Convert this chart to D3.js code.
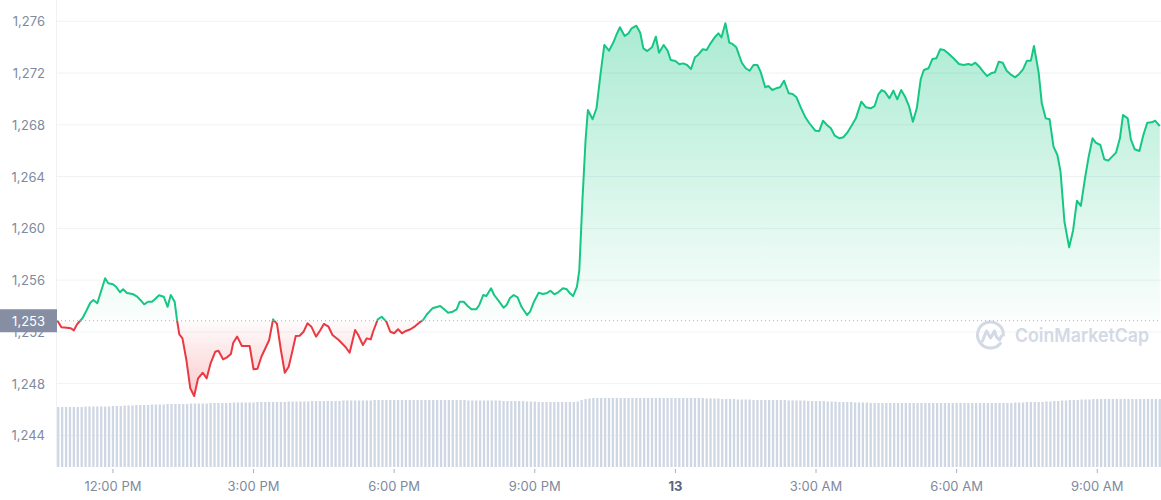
<!DOCTYPE html>
<html><head><meta charset="utf-8">
<script src="https://cdn.jsdelivr.net/npm/d3@7"></script>
<style>
html,body{margin:0;padding:0;background:#fff;}
svg{display:block;font-family:Inter,"Noto Sans",sans-serif;}
</style></head><body>
<svg id="chart" width="1161" height="500"></svg>
<script>
// minutes after 00:00 on the 12th
const minutes = [
649,654,661,666,670,674,678,681,686,691,695,700,706,710,714,720,724,729,733,738,745,751,756,760,765,770,774,779,785,790,794,799,802,805,809,814,819,824,829,835,840,845,851,855,861,866,871,874,879,885,895,900,905,910,916,920,925,930,935,940,945,950,954,959,964,969,974,980,985,990,996,
1001,1009,1018,1023,1030,1034,1040,1045,1050,1053,1059,1064,1070,1075,1080,1085,1090,1095,1101,1107,1112,1117,1122,1129,1139,1144,1149,1155,1160,1164,1169,1174,1179,1185,1189,1194,1198,1204,1208,1213,1220,1224,1228,1233,1238,1243,1250,1254,1259,1265,1270,1275,1280,1285,1290,1296,1301,1305,1309,1314,1317,
1321,1325,1328,1334,1339,1344,1349,1355,1361,1365,1369,1375,1380,1384,1390,1395,1399,1404,1410,1415,1419,1425,1430,1434,1440,1445,1450,1455,1460,1465,1469,1475,1480,1485,1491,1495,1499,1504,1509,1513,1518,1525,1530,1535,1540,1545,1549,1555,1559,1564,1569,1574,1579,1585,1590,1595,1600,1606,1611,1619,1624,1629,1634,1639,1644,1650,1655,1660,1666,1671,1678,
1684,1690,1695,1700,1704,1708,1714,1719,1724,1729,1734,1739,1744,1749,1754,1758,1764,1769,1774,1779,1784,1789,1796,1803,1809,1815,1819,1824,1829,1834,1839,1844,1849,1854,1859,1864,1869,1875,1880,1885,1890,1895,1899,1905,1909,1914,1919,1924,1929,1933,1938,1944,1949,1954,1959,1964,1969,1974,1978,1984,1989,1994,1999,2004,2009,2013,2019,2023,2028,2034,2039,2044,2050,2054,2060
];
const prices = [
1252.86,1252.35,1252.32,1252.28,1252.12,1252.58,1252.86,1253.05,1253.63,1254.25,1254.46,1254.21,1255.37,1256.14,1255.75,1255.68,1255.49,1255.06,1255.29,1255.00,1254.93,1254.72,1254.41,1254.13,1254.33,1254.33,1254.54,1254.83,1254.72,1253.94,1254.85,1254.33,1252.92,1251.81,1251.50,1249.83,1247.64,1247.04,1248.41,1248.84,1248.41,1249.57,1250.47,1250.54,1249.88,1250.03,1250.29,1251.16,1251.63,1250.91,1250.91,1249.11,1249.15,1250.08,1250.85,1251.37,1252.97,1252.61,1250.60,1248.84,1249.31,1250.60,1251.68,1251.70,1252.01,1252.66,1252.40,1251.63,1252.09,1252.61,1252.40,
1251.76,1251.37,1250.81,1250.39,1252.14,1251.76,1250.98,1251.50,1251.42,1252.01,1252.97,1253.17,1252.79,1252.01,1251.89,1252.20,1251.89,1252.07,1252.20,1252.45,1252.71,1252.92,1253.36,1253.82,1254.00,1253.74,1253.48,1253.56,1253.74,1254.33,1254.33,1254.00,1253.74,1253.74,1254.08,1254.85,1254.77,1255.37,1254.85,1254.46,1253.87,1254.08,1254.59,1254.85,1254.67,1253.94,1253.30,1253.56,1254.33,1255.03,1254.93,1254.98,1255.18,1254.90,1255.06,1255.37,1255.29,1254.98,1254.77,1255.49,1256.78,
1262.19,1266.83,1269.15,1268.43,1269.28,1271.85,1274.17,1273.73,1274.42,1275.02,1275.54,1274.86,1275.07,1275.46,1275.66,1275.12,1273.91,1273.70,1273.99,1274.81,1273.57,1274.17,1273.73,1273.01,1272.93,1272.68,1272.75,1272.62,1272.31,1273.22,1273.40,1273.84,1273.78,1274.30,1274.81,1275.07,1274.76,1275.85,1274.35,1274.25,1273.99,1272.80,1272.37,1272.18,1272.62,1272.62,1272.11,1270.90,1271.00,1270.69,1270.82,1270.90,1271.41,1270.44,1270.38,1270.13,1269.40,1268.63,1268.16,1267.55,1267.52,1268.32,1267.99,1267.73,1267.16,1266.96,1267.04,1267.39,1267.99,1268.50,1269.79,
1269.35,1269.28,1269.45,1270.38,1270.69,1270.56,1270.05,1270.64,1269.97,1270.69,1270.17,1269.45,1268.24,1269.28,1271.52,1272.24,1272.37,1273.09,1273.14,1273.84,1273.78,1273.53,1273.14,1272.70,1272.62,1272.70,1272.62,1272.80,1272.49,1272.11,1271.77,1271.98,1272.06,1272.88,1272.80,1272.18,1271.90,1271.67,1271.93,1272.29,1272.96,1272.96,1274.09,1272.03,1269.66,1268.50,1268.43,1266.31,1265.67,1264.38,1260.51,1258.53,1259.82,1262.14,1261.73,1263.74,1265.54,1266.96,1266.62,1266.44,1265.34,1265.23,1265.54,1265.85,1266.96,1268.76,1268.50,1266.88,1266.11,1265.98,1267.21,1268.16,1268.19,1268.32,1267.91
];
// volume bars, one every 5 minutes starting at 10:50
const volStartMinute = 650;
const volStepMinutes = 5;
const volumes = [
60,60,60,60,60,60,60,60.5,60.5,60.5,60.5,60.5,60.5,60.5,61,61,61,61.5,61.5,61.5,
62,62,62,62,62.5,62.5,62.5,62.5,63,63,63,63,63,63,63.5,63.5,63.5,63.5,63.5,64,
64,64,64,64,64,64.5,64.5,64.5,64.5,64.5,64.5,65,65,65,65,65,65,65,65,65.5,
65.5,65.5,65.5,65.5,65.5,66,66,66,66,66,66,66,66,66.5,66.5,66.5,66.5,66.5,66.5,66.5,
66.5,67,67,67,67,67,67,67,67,67,67,67,67,67,67,67,67,67,67,67,
67,67,67,67,67,66.5,66.5,66.5,66.5,66.5,66.5,66.5,66.5,66.5,66,66,66,66,66,66,
65.5,65.5,65.5,65,65,65,65,65,65,65,65,65,65,65.5,67,68,68.5,69,69,69,
69,69,69,69,69,69,69,69,69,69,69,69,69,69,69,69,69,69,69,69,
69,69,69,69,69,69,68.5,68.5,68.5,68.5,68,68,68,68,67.5,67.5,67.5,67.5,67,67,
67,67,67,67,67,67,67,66.5,66.5,66.5,66.5,66.5,66,66,66,66,66,65.5,65.5,65.5,
65,65,65,65,64.5,64.5,64.5,64.5,64,64,64,64,64,64,64,64,64,64,64,64,
64,64,64,64,64,64,64,64,64,64,64,64,64,64,64,64,64,64,64,64,
64,64,64,64,64,64.5,64.5,64.5,65,65,65,65,65,65.5,65.5,66,66,66.5,66.5,67,
67,67,67.5,67.5,67.5,68,68,68,68,68,68,68,68,68,68,68,68,68,68,68,
68,68,68
];
const yTicks = [1244,1248,1252,1256,1260,1264,1268,1272,1276];
const baseline = 1252.86;
const baselineLabel = "1,253";
const domainMinutes = [648.4, 2061.6];

const day0 = new Date(2022, 8, 12).getTime();
const toDate = m => new Date(day0 + m * 60000);
const data = minutes.map((m, i) => ({t: toDate(m), p: prices[i]}));
const vdata = volumes.map((v, i) => ({t: toDate(volStartMinute + i * volStepMinutes), v}));

const L = 57, R = 1161, B = 467;
const svg = d3.select("#chart");
const x = d3.scaleTime().domain(domainMinutes.map(toDate)).range([L, R]);
const y = d3.scaleLinear().domain([1244, 1276]).range([435.4, 21.3]);
const vy = d3.scaleLinear().domain([0, 100]).range([B, B - 100]);
const by = y(baseline);

const defs = svg.append("defs");
const gG = defs.append("linearGradient").attr("id", "gGreen").attr("gradientUnits", "userSpaceOnUse")
  .attr("x1", 0).attr("x2", 0).attr("y1", y(d3.max(prices))).attr("y2", by);
gG.append("stop").attr("offset", 0).attr("stop-color", "#16c784").attr("stop-opacity", 0.36);
gG.append("stop").attr("offset", 1).attr("stop-color", "#16c784").attr("stop-opacity", 0.02);
const gR = defs.append("linearGradient").attr("id", "gRed").attr("gradientUnits", "userSpaceOnUse")
  .attr("x1", 0).attr("x2", 0).attr("y1", by).attr("y2", y(d3.min(prices)));
gR.append("stop").attr("offset", 0).attr("stop-color", "#ea3943").attr("stop-opacity", 0.02);
gR.append("stop").attr("offset", 1).attr("stop-color", "#ea3943").attr("stop-opacity", 0.26);
defs.append("clipPath").attr("id", "cAbove").append("rect").attr("x", L).attr("y", 0).attr("width", R - L).attr("height", by);
defs.append("clipPath").attr("id", "cBelow").append("rect").attr("x", L).attr("y", by).attr("width", R - L).attr("height", B - by);
defs.append("clipPath").attr("id", "cPlot").append("rect").attr("x", L).attr("y", 0).attr("width", R - L).attr("height", B);

// grid
svg.append("g").selectAll("line").data(yTicks).join("line")
  .attr("x1", L).attr("x2", R).attr("y1", d => y(d)).attr("y2", d => y(d))
  .attr("stroke", "#eff2f5").attr("stroke-width", 1);
svg.append("line").attr("x1", L - 0.5).attr("x2", L - 0.5).attr("y1", 0).attr("y2", B)
  .attr("stroke", "#eff2f5");

// volume bars
svg.append("g").attr("clip-path", "url(#cPlot)").selectAll("rect").data(vdata).join("rect")
  .attr("x", d => x(d.t) - 1.15).attr("width", 2.3)
  .attr("y", d => vy(d.v)).attr("height", d => B - vy(d.v))
  .attr("fill", "#cfd6e4");

// watermark
const wm = svg.append("g").attr("transform", "translate(990.5,335)").attr("fill", "none")
  .attr("stroke", "#d3d9e5").attr("stroke-width", 3).attr("stroke-linecap", "round").attr("stroke-linejoin", "round");
wm.append("path").attr("d", d3.arc()({innerRadius: 0, outerRadius: 13, startAngle: Math.PI * 0.72, endAngle: Math.PI * 2.5}).split("L")[0]);
wm.append("path").attr("d", "M-8,6 L-4,-4 L0,3 L4,-4 L6,2 L9,5 L11,1");
svg.append("text").attr("x", 1015).attr("y", 342).attr("font-size", 19).attr("font-weight", 600)
  .attr("fill", "#d3d9e5").attr("textLength", 134).attr("lengthAdjust", "spacingAndGlyphs").text("CoinMarketCap");

// areas
const area = d3.area().x(d => x(d.t)).y0(by).y1(d => y(d.p));
svg.append("path").datum(data).attr("d", area).attr("fill", "url(#gGreen)").attr("clip-path", "url(#cAbove)");
svg.append("path").datum(data).attr("d", area).attr("fill", "url(#gRed)").attr("clip-path", "url(#cBelow)");

// baseline dotted
svg.append("line").attr("x1", L).attr("x2", R).attr("y1", by).attr("y2", by)
  .attr("stroke", "#a6b0c3").attr("stroke-width", 1).attr("stroke-dasharray", "1,3");

// line
const line = d3.line().x(d => x(d.t)).y(d => y(d.p));
svg.append("path").datum(data).attr("d", line).attr("fill", "none").attr("stroke", "#16c784")
  .attr("stroke-width", 2).attr("stroke-linejoin", "round").attr("clip-path", "url(#cAbove)");
svg.append("path").datum(data).attr("d", line).attr("fill", "none").attr("stroke", "#ea3943")
  .attr("stroke-width", 2).attr("stroke-linejoin", "round").attr("clip-path", "url(#cBelow)");

// y axis labels
const fmt = d3.format(",");
svg.append("g").selectAll("text").data(yTicks).join("text")
  .attr("x", 45).attr("y", d => y(d)).attr("text-anchor", "end").attr("dominant-baseline", "central")
  .attr("font-size", 13).attr("fill", "#808a9d").text(d => fmt(d));

// baseline label
svg.append("rect").attr("x", 0).attr("y", by - 11.5).attr("width", L).attr("height", 23).attr("fill", "#868ea3");
svg.append("text").attr("x", 45).attr("y", by).attr("text-anchor", "end").attr("dominant-baseline", "central")
  .attr("font-size", 13).attr("fill", "#ffffff").text(baselineLabel);

// x axis
const xt = x.ticks(d3.timeHour.every(3));
const gx = svg.append("g");
gx.selectAll("line").data(xt).join("line")
  .attr("x1", d => x(d)).attr("x2", d => x(d)).attr("y1", 469).attr("y2", 473)
  .attr("stroke", "#a6b0c3");
gx.selectAll("text").data(xt).join("text")
  .attr("x", d => x(d)).attr("y", 485.5).attr("text-anchor", "middle").attr("dominant-baseline", "central")
  .attr("font-size", 13)
  .attr("font-weight", d => d.getHours() === 0 ? 700 : 400)
  .attr("fill", d => d.getHours() === 0 ? "#58667e" : "#808a9d")
  .text(d => d.getHours() === 0 ? d3.timeFormat("%-d")(d) : d3.timeFormat("%-I:%M %p")(d));
</script>
</body></html>
